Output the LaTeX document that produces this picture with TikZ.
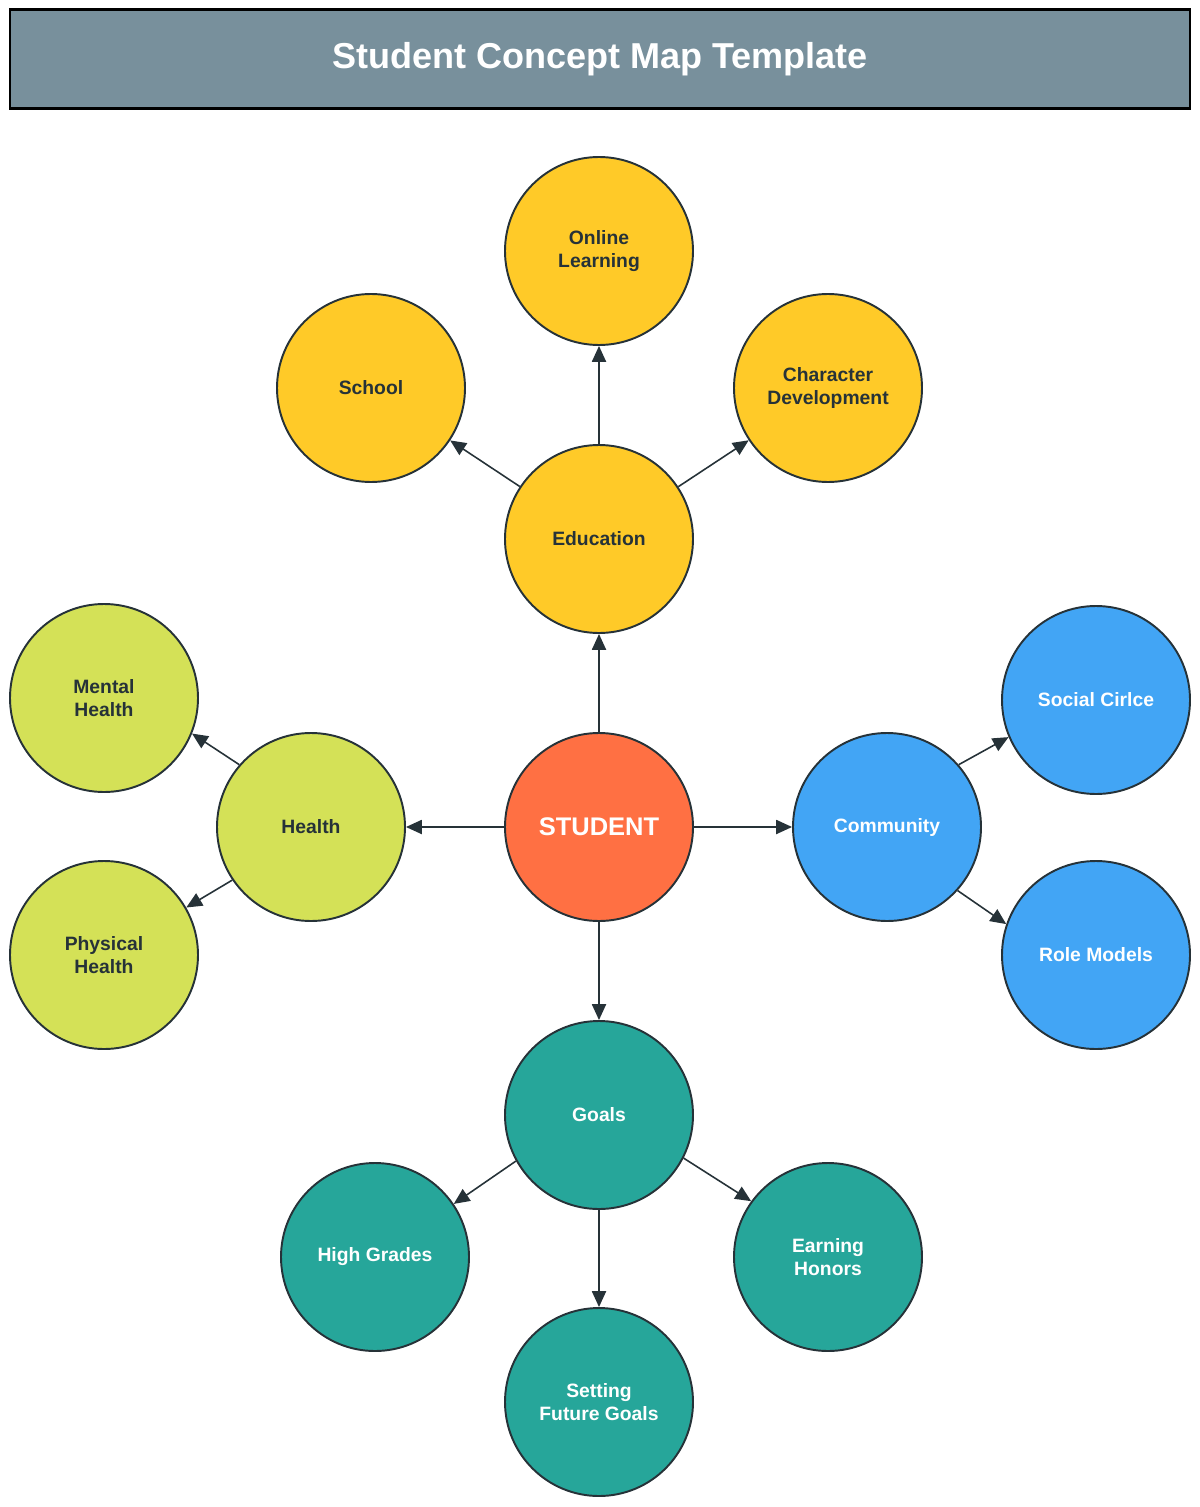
\documentclass[tikz,border=0pt]{standalone}
\usepackage{fontspec}
\setmainfont{Liberation Sans}
\usetikzlibrary{arrows.meta}

\definecolor{titlebg}{HTML}{78909C}
\definecolor{eduyellow}{HTML}{FFCA28}
\definecolor{healthlime}{HTML}{D4E157}
\definecolor{studentorange}{HTML}{FF7043}
\definecolor{commblue}{HTML}{42A5F5}
\definecolor{goalteal}{HTML}{26A69A}
\definecolor{inkdark}{HTML}{263238}

\begin{document}
\begin{tikzpicture}[
        bubble/.style={circle, draw=inkdark, line width=1.1pt, minimum size=3.76cm,
            align=center, font=\bfseries\fontsize{11}{13.5}\selectfont, inner sep=0pt},
        edu/.style={bubble, fill=eduyellow, text=inkdark},
        hlth/.style={bubble, fill=healthlime, text=inkdark},
        comm/.style={bubble, fill=commblue, text=white},
        goal/.style={bubble, fill=goalteal, text=white},
        link/.style={draw=inkdark, line width=0.9pt, -{Triangle[length=9pt,width=8pt]}}
    ]
    \useasboundingbox (0,0) rectangle (24,-30.14);

    % Title
    \node[draw=black, line width=1.2pt, fill=titlebg, minimum width=23.6cm, minimum height=1.98cm,
        inner sep=0pt, text=white, font=\bfseries\fontsize{20.5}{25}\selectfont] (title) at (12,-1.18)
        {Student Concept Map Template};

    % Centre
    \node[bubble, fill=studentorange, text=white, font=\bfseries\fontsize{14.5}{17}\selectfont]
        (student) at (11.98,-16.54) {STUDENT};

    % Education
    \node[edu] (education) at (11.98,-10.78) {Education};
    \node[edu] (online) at (11.98,-5.02) {Online\\Learning};
    \node[edu] (school) at (7.42,-7.76) {School};
    \node[edu] (character) at (16.56,-7.76) {Character\\Development};

    % Health
    \node[hlth] (health) at (6.22,-16.54) {Health};
    \node[hlth] (mental) at (2.08,-13.96) {Mental\\Health};
    \node[hlth] (physical) at (2.08,-19.1) {Physical\\Health};

    % Community
    \node[comm] (community) at (17.74,-16.54) {Community};
    \node[comm] (social) at (21.92,-14.0) {Social Cirlce};
    \node[comm] (rolemodels) at (21.92,-19.1) {Role Models};

    % Goals
    \node[goal] (goals) at (11.98,-22.3) {Goals};
    \node[goal] (grades) at (7.5,-25.14) {High Grades};
    \node[goal] (honors) at (16.56,-25.14) {Earning\\Honors};
    \node[goal] (future) at (11.98,-28.04) {Setting\\Future Goals};

    % Links
    \draw[link] (student) -- (education);
    \draw[link] (student) -- (health);
    \draw[link] (student) -- (community);
    \draw[link] (student) -- (goals);
    \draw[link] (education) -- (online);
    \draw[link] (education) -- (school);
    \draw[link] (education) -- (character);
    \draw[link] (health.139) -- (mental.-22);
    \draw[link] (health.214) -- (physical.30);
    \draw[link] (community.41) -- (social.203);
    \draw[link] (community.-42) -- (rolemodels.161);
    \draw[link] (goals.209) -- (grades.34);
    \draw[link] (goals.-27) -- (honors.144);
    \draw[link] (goals) -- (future);
\end{tikzpicture}
\end{document}
